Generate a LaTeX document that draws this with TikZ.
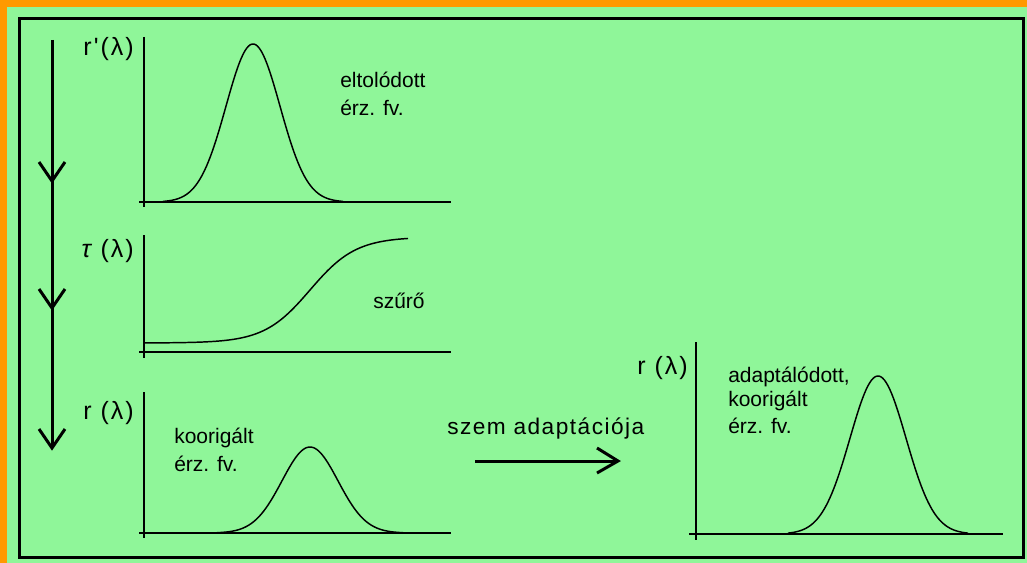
\documentclass[tikz,border=0pt]{standalone}
\usepackage{fontspec}
\setmainfont{Liberation Sans}[Ligatures=TeXOff]
\usepackage{xcolor}
\usetikzlibrary{calc}
\definecolor{bggreen}{RGB}{143,246,153}
\definecolor{frameorange}{RGB}{255,153,0}

\begin{document}
\begin{tikzpicture}[x=0.75pt, y=-0.75pt,
    axis/.style={line width=1.5pt},
    curve/.style={line width=1.1pt, samples=100},
    heavy/.style={line width=2.25pt},
    txt/.style={inner sep=0pt, anchor=base west, font=\fontsize{15.75}{19}\selectfont},
    ylab/.style={inner sep=0pt, anchor=east, font=\fontsize{18.75}{22}\selectfont\addfontfeature{LetterSpace=8}}]
    % Háttér és keret
    \useasboundingbox (0,0) rectangle (1027,563);
    \fill[frameorange] (0,0) rectangle (1027,563);
    \fill[bggreen] (7,7) rectangle (1027,563);
    \draw[heavy] (19,19) rectangle (1023,557);

    % Függőleges nyíl
    \coordinate (dtop) at (52,40);
    \coordinate (dbot) at (52,448);
    \draw[heavy] (dtop) -- (dbot);
    \foreach \t in {181,308,448} {
        \draw[heavy] (39,\t-19) -- (52,\t) -- (65,\t-19);
    }

    % Eltolódott érzékenységi függvény
    \draw[axis] (144,37) -- (144,207);
    \draw[axis] (139,202) -- (451,202);
    \draw[curve, domain=163:343]
       plot (\x, {202-158*exp(-((\x-253)^2)/1458)});
    \node[ylab] (rprime) at (134,49) {r'(λ)};
    \node[txt] (eltol) at (340,88) {eltolódott};
    \node[txt] (erzA) at (340,116) {érz. fv.};

    % Szűrő
    \draw[axis] (144,235) -- (144,358);
    \draw[axis] (139,352) -- (451,352);
    \draw[curve, domain=144:408]
       plot (\x, {343-106/(1+exp(-(\x-310)/23))});
    \node[ylab] (tau) at (134,251) {\textit{τ}\kern-2pt\ (λ)};
    \node[txt] (szuro) at (373,308) {szűrő};

    % Koorigált érzékenységi függvény
    \draw[axis] (144,392) -- (144,538);
    \draw[axis] (139,533) -- (451,533);
    \draw[curve, domain=217:403]
       plot (\x, {533-86*exp(-((\x-310)^2)/1568)});
    \node[ylab] (rA) at (134,413) {r (λ)};
    \node[txt] (koorA) at (174,443) {koorigált};
    \node[txt] (erzB) at (174,471) {érz. fv.};

    % Szem adaptációja
    \node[txt, font=\fontsize{17}{20}\selectfont\addfontfeature{LetterSpace=6.5}] (adapt) at (447,434) {szem adaptációja};
    \coordinate (hfrom) at (475,461);
    \coordinate (hto) at (618,461);
    \draw[heavy] (hfrom) -- (hto);
    \draw[heavy] ($(hto)+(-21,-13)$) -- (hto) -- ($(hto)+(-21,12)$);

    % Adaptálódott, koorigált érzékenységi függvény
    \draw[axis] (696,342) -- (696,540);
    \draw[axis] (689,534) -- (1003,534);
    \draw[curve, domain=788:968]
       plot (\x, {534-158*exp(-((\x-878)^2)/1568)});
    \node[ylab] (rB) at (688,368) {r (λ)};
    \node[txt] (adtext) at (728,382) {adaptálódott,};
    \node[txt] (koorB) at (728,406) {koorigált};
    \node[txt] (erzC) at (728,433) {érz. fv.};
\end{tikzpicture}
\end{document}
